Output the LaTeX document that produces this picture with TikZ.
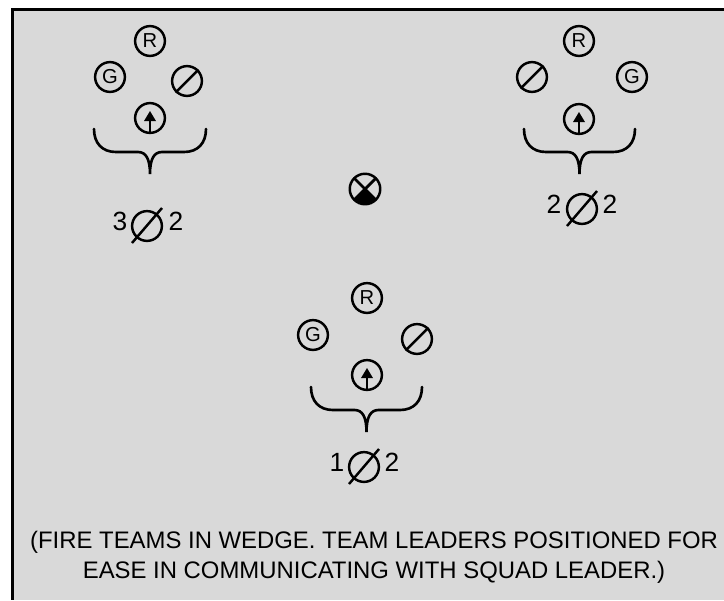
\documentclass[tikz,border=0pt]{standalone}
\usepackage{fontspec}
\setmainfont{Liberation Sans}
\usetikzlibrary{calc}
\definecolor{paneltone}{RGB}{217,217,217}
\tikzset{
    soldier/.style={circle, draw, line width=1.4pt, minimum size=29.8*0.02cm, inner sep=0pt, font=\fontsize{11.5pt}{11.5pt}\selectfont},
    digit/.style={inner sep=0pt, font=\fontsize{15pt}{15pt}\selectfont},
    caption/.style={align=center, inner sep=0pt, font=\fontsize{13.6pt}{17pt}\selectfont}
}
% one curly brace, left end, width and top
\newcommand{\teambrace}[3]{
    \draw[line width=1.5pt, line cap=round] (#1,#3) .. controls (#1,#3+14) and (#1+8,#3+23) .. (#1+22,#3+23)
        -- (#1+#2/2-12,#3+23) .. controls (#1+#2/2-4,#3+23) and (#1+#2/2,#3+30) .. (#1+#2/2,#3+45)
        .. controls (#1+#2/2,#3+30) and (#1+#2/2+4,#3+23) .. (#1+#2/2+12,#3+23)
        -- (#1+#2-22,#3+23) .. controls (#1+#2-8,#3+23) and (#1+#2,#3+14) .. (#1+#2,#3);
}
\begin{document}
\begin{tikzpicture}[x=0.02cm,y=-0.02cm]
    % Panel
    \useasboundingbox (0,0) rectangle (724,600);
    \fill[white] (0,0) rectangle (724,600);
    \fill[paneltone] (12,9.5) rectangle (724,600);
    \draw[line width=1.7pt] (724,9.5) -- (12.2,9.5) -- (12.2,600);

    % Left team
    \node[soldier] (leftR) at (150,41) {R};
    \node[soldier] (leftG) at (110,77) {G};
    \node[soldier] (leftA) at (187,81) {};
    \node[soldier] (leftL) at (150,118) {};
    \teambrace{94}{112}{129}
    \node[digit] (leftN) at (120,221) {3};
    \node[soldier] (leftS) at (147,226) {};
    \node[digit] (leftC) at (176,221) {2};

    % Right team
    \node[soldier] (rightR) at (579,41) {R};
    \node[soldier] (rightA) at (532,77) {};
    \node[soldier] (rightG) at (632,77) {G};
    \node[soldier] (rightL) at (579,119) {};
    \teambrace{524}{111}{129}
    \node[digit] (rightN) at (554,204) {2};
    \node[soldier] (rightS) at (582,209) {};
    \node[digit] (rightC) at (610,204) {2};

    % Lower team
    \node[soldier] (lowR) at (367,298) {R};
    \node[soldier] (lowG) at (313,335) {G};
    \node[soldier] (lowA) at (417,339) {};
    \node[soldier] (lowL) at (367,375) {};
    \teambrace{311}{111}{387}
    \node[digit] (lowN) at (337,462) {1};
    \node[soldier] (lowS) at (364,467) {};
    \node[digit] (lowC) at (392,462) {2};

    % Slashes through the riflemen
    \foreach \n in {leftA,rightA,lowA} {
        \draw[line width=1.4pt] (\n.north east) -- (\n.south west);
    }
    \foreach \n in {leftS,rightS,lowS} {
        \draw[line width=1.4pt] ($(\n.center)+(15,-18)$) -- ($(\n.center)+(-15,17)$);
    }

    % Team leader arrows
    \foreach \n in {leftL,rightL,lowL} {
        \draw[line width=1.4pt] (\n.south) -- ($(\n.center)+(0,-3)$);
        \fill ($(\n.center)+(0,-7)$) -- ($(\n.center)+(-6,3)$) -- ($(\n.center)+(6,3)$) -- cycle;
    }

    % Squad leader
    \node[soldier, minimum size=30.5*0.02cm] (squad) at (365,189) {};
    \begin{scope}
        \clip (squad.center) circle (15.5);
        \draw[line width=1.6pt] (squad.north west) -- (squad.south east);
        \draw[line width=1.6pt] (squad.north east) -- (squad.south west);
        \fill ($(squad.center)+(0,-1)$) -- ++(-18,18) -- ++(36,0) -- cycle;
    \end{scope}

    % Caption
    \node[caption] (note) at (374,557) {(FIRE TEAMS IN WEDGE. TEAM LEADERS POSITIONED FOR\\EASE IN COMMUNICATING WITH SQUAD LEADER.)};
\end{tikzpicture}
\end{document}
